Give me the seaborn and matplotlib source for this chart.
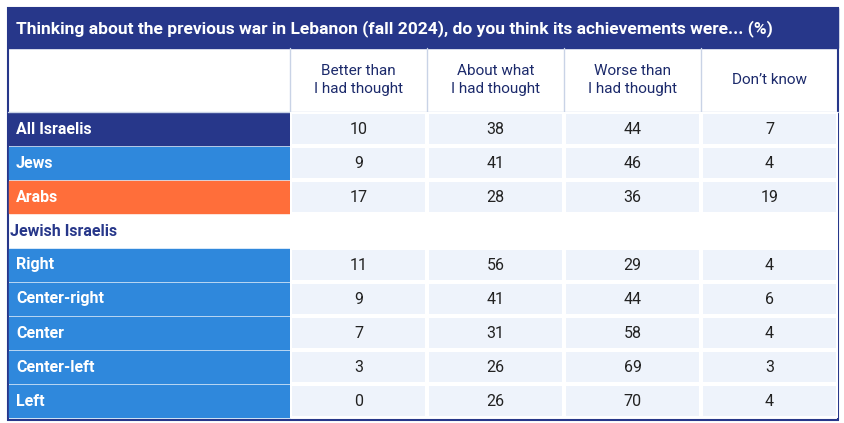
import matplotlib
matplotlib.use('Agg')
import matplotlib.pyplot as plt
import seaborn as sns
import numpy as np
import pandas as pd
from matplotlib.colors import ListedColormap
from matplotlib.patches import Rectangle

sns.set_theme(style='white')
plt.rcParams['font.family'] = ['Roboto', 'DejaVu Sans']

title = 'Thinking about the previous war in Lebanon (fall 2024), do you think its achievements were... (%)'
columns = ['Better than\nI had thought', 'About what\nI had thought', 'Worse than\nI had thought', 'Don\u2019t know']
rows = ['All Israelis', 'Jews', 'Arabs', 'Jewish Israelis', 'Right', 'Center-right', 'Center', 'Center-left', 'Left']
better = [10, 9, 17, np.nan, 11, 9, 7, 3, 0]
about = [38, 41, 28, np.nan, 56, 41, 31, 26, 26]
worse = [44, 46, 36, np.nan, 29, 44, 58, 69, 70]
dontknow = [7, 4, 19, np.nan, 4, 6, 4, 3, 4]
row_colors = ['#27378a', '#2f88dc', '#ff6e3a', None, '#2f88dc', '#2f88dc', '#2f88dc', '#2f88dc', '#2f88dc']

navy = '#27378a'
W, H = 844, 423
fig = plt.figure(figsize=(W / 100, H / 100), dpi=100)
bg = fig.add_axes([0, 0, 1, 1])
bg.set_xlim(0, W)
bg.set_ylim(H, 0)
bg.axis('off')

# title bar
bg.add_patch(Rectangle((8, 8), 830, 40, color=navy))
bg.text(16, 29, title, color='white', fontsize=12.5, fontweight='bold', va='center', ha='left')
# outer frame
bg.add_patch(Rectangle((8, 8), 830, 412, fill=False, ec=navy, lw=1.5))

# header row
x0, colw = 290, 137
hy0, hy1 = 48, 112
for i, c in enumerate(columns):
    bg.plot([x0 + i * colw] * 2, [hy0, hy1], color='#c9d3e6', lw=1)
    bg.text(x0 + i * colw + colw / 2, (hy0 + hy1) / 2, c, ha='center', va='center',
            fontsize=11, color='#1c2a6b', linespacing=1.3)
bg.plot([8, 838], [hy1, hy1], color='#c9d3e6', lw=1)

# row labels
ry0 = 112
rh = (418 - ry0) / len(rows)
for i, (r, col) in enumerate(zip(rows, row_colors)):
    y = ry0 + i * rh
    if col:
        bg.add_patch(Rectangle((9, y + 1), x0 - 9, rh - 2, color=col))
        bg.text(16, y + rh / 2, r, color='white', fontsize=11.5, fontweight='bold', va='center')
    else:
        bg.text(10, y + rh / 2, r, color=navy, fontsize=11.5, fontweight='bold', va='center')

# data cells
df = pd.DataFrame({'b': better, 'a': about, 'w': worse, 'd': dontknow}, index=rows)
ax = fig.add_axes([x0 / W, 1 - 418 / H, (838 - x0) / W, (418 - ry0) / H])
sns.heatmap(df, ax=ax, cmap=ListedColormap(['#eef3fb']), cbar=False, annot=True, fmt='.0f',
            annot_kws={'fontsize': 11.5, 'color': '#222222'}, linewidths=1.5, linecolor='white')
ax.set_xticks([])
ax.set_yticks([])
ax.set_xlabel('')
ax.set_ylabel('')

fig.savefig('out.png', dpi=100)
